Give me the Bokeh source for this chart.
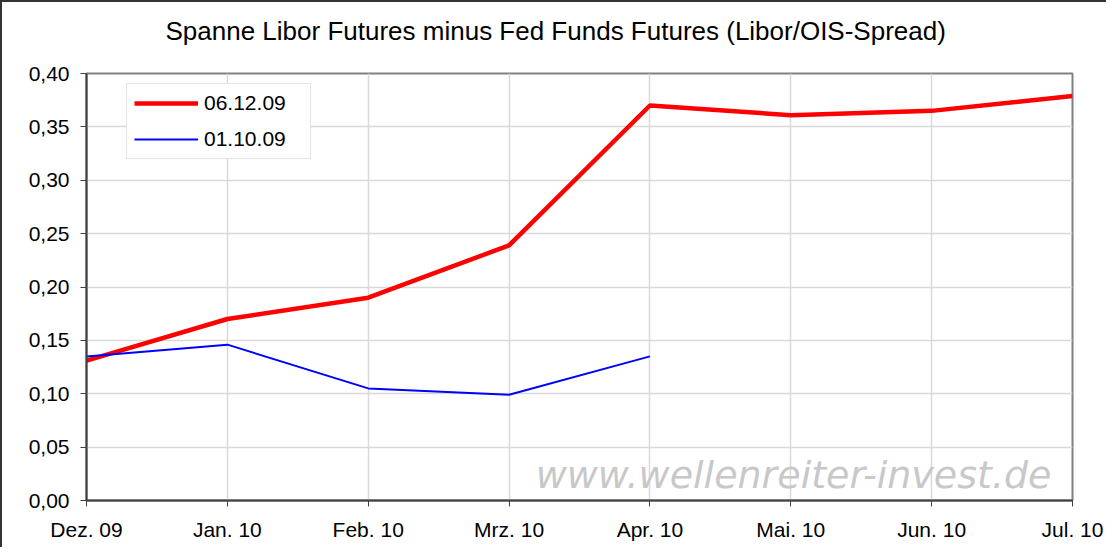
from bokeh.plotting import figure
from bokeh.models import (Range1d, FixedTicker, CustomJSTickFormatter, Legend, LegendItem,
                          Label, ColumnDataSource, Title)
from bokeh.embed import file_html
from bokeh.resources import INLINE

months = ["Dez. 09", "Jan. 10", "Feb. 10", "Mrz. 10", "Apr. 10", "Mai. 10", "Jun. 10", "Jul. 10"]
spread_0612 = [0.131, 0.170, 0.190, 0.239, 0.370, 0.361, 0.365, 0.379]
spread_0110 = [0.135, 0.146, 0.105, 0.099, 0.135]
y_ticks = [0.0, 0.05, 0.10, 0.15, 0.20, 0.25, 0.30, 0.35, 0.40]
title_text = "Spanne Libor Futures minus Fed Funds Futures (Libor/OIS-Spread)"

FONT = "Liberation Sans"

p = figure(width=1106, height=547, output_backend="svg", toolbar_location=None,
           x_range=Range1d(0, len(months) - 1), y_range=Range1d(0, 0.40),
           min_border_left=84, min_border_right=36, min_border_bottom=49, min_border_top=71)
p.title_location = None
p.styles = {"border-left": "2px solid #333333", "border-top": "2px solid #333333"}

# spacer between frame and title, then the title itself
p.add_layout(Title(text=" ", text_font_size="10px", standoff=0), "above")
p.add_layout(Title(text=title_text, align="left", offset=79, vertical_align="top",
                   text_font=FONT, text_font_size="26px", text_font_style="normal",
                   text_color="black", standoff=26), "above")

p.outline_line_color = "#808080"
p.outline_line_width = 2

xs = list(range(len(months)))
src_r = ColumnDataSource(dict(x=xs, y=spread_0612))
src_b = ColumnDataSource(dict(x=xs[:len(spread_0110)], y=spread_0110))
r_red = p.line("x", "y", source=src_r, line_color="#ff0000", line_width=4.5)
r_blue = p.line("x", "y", source=src_b, line_color="#0000ff", line_width=2)

p.xaxis.ticker = FixedTicker(ticks=xs)
p.xaxis.major_label_overrides = {i: m for i, m in enumerate(months)}
p.yaxis.ticker = FixedTicker(ticks=y_ticks)
p.yaxis.formatter = CustomJSTickFormatter(code="return tick.toFixed(2).replace('.', ',');")

for ax in (p.xaxis[0], p.yaxis[0]):
    ax.axis_line_color = "#404040"
    ax.axis_line_width = 2
    ax.major_tick_line_color = "#404040"
    ax.major_tick_line_width = 1
    ax.major_tick_out = 6
    ax.major_tick_in = 0
    ax.minor_tick_line_color = None
    ax.major_label_text_font = FONT
    ax.major_label_text_color = "black"
p.xaxis.major_label_text_font_size = "21px"
p.yaxis.major_label_text_font_size = "21px"
p.xaxis.major_label_standoff = 11
p.yaxis.major_label_standoff = 11

p.xgrid.grid_line_color = "#d9d9d9"
p.ygrid.grid_line_color = "#d9d9d9"
p.xgrid.grid_line_width = 1.5
p.ygrid.grid_line_width = 1.5

wm = Label(x=5.02, y=0.024, text="www.wellenreiter-invest.de", text_font="DejaVu Sans",
           text_font_style="italic", text_font_size="38px", text_color="#c8c8c8",
           text_align="center", text_baseline="middle")
p.add_layout(wm)

legend = Legend(items=[LegendItem(label="06.12.09", renderers=[r_red]),
                       LegendItem(label="01.10.09", renderers=[r_blue])],
                location=(40, 341), orientation="vertical")
legend.label_text_font = FONT
legend.label_text_font_size = "21px"
legend.label_text_color = "black"
legend.glyph_width = 64
legend.glyph_height = 24
legend.label_height = 24
legend.label_width = 99
legend.label_standoff = 6
legend.spacing = 12
legend.padding = 7
legend.margin = 0
legend.border_line_color = "#cccccc"
legend.border_line_width = 1.5
legend.background_fill_color = "white"
legend.background_fill_alpha = 1
p.add_layout(legend, "center")

open("out.html", "w").write(file_html(p, INLINE))
